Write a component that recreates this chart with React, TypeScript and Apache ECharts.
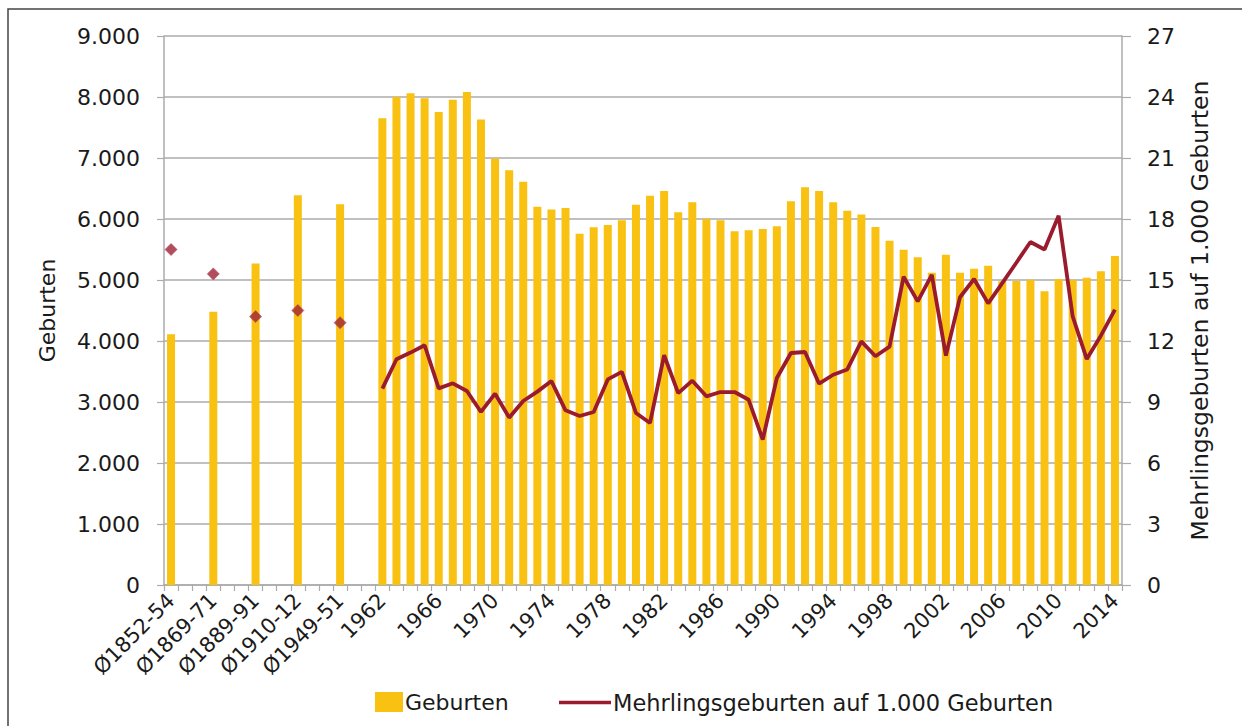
import React, { useEffect, useRef } from "react";
import * as echarts from "echarts";

const histLabels = ["Ø1852-54", "Ø1869-71", "Ø1889-91", "Ø1910-12", "Ø1949-51"];
const histBirths = [4110, 4480, 5270, 6390, 6240];
const histMultiple = [16.5, 15.3, 13.2, 13.5, 12.9];

const years = [
  "1962", "1963", "1964", "1965", "1966", "1967", "1968", "1969",
  "1970", "1971", "1972", "1973", "1974", "1975", "1976", "1977", "1978", "1979",
  "1980", "1981", "1982", "1983", "1984", "1985", "1986", "1987", "1988", "1989",
  "1990", "1991", "1992", "1993", "1994", "1995", "1996", "1997", "1998", "1999",
  "2000", "2001", "2002", "2003", "2004", "2005", "2006", "2007", "2008", "2009",
  "2010", "2011", "2012", "2013", "2014",
];
const births = [
  7650, 8000, 8060, 7980, 7755, 7955, 8080, 7630,
  6990, 6800, 6610, 6200, 6155, 6180, 5760, 5865, 5900, 5980,
  6235, 6383, 6460, 6110, 6275, 6005, 5980, 5800, 5815, 5838,
  5880, 6290, 6520, 6460, 6275, 6135, 6075, 5870, 5645, 5497,
  5372, 5120, 5415, 5120, 5186, 5235, 4980, 4985, 5005, 4815,
  5015, 5000, 5038, 5142, 5393,
];
const multiple = [
  9.66, 11.1, 11.43, 11.79, 9.67, 9.92, 9.54, 8.51,
  9.41, 8.23, 9.05, 9.51, 10.03, 8.59, 8.31, 8.51, 10.11, 10.48,
  8.46, 7.97, 11.3, 9.44, 10.05, 9.28, 9.49, 9.49, 9.11, 7.15,
  10.18, 11.41, 11.46, 9.9, 10.34, 10.6, 11.98, 11.25, 11.72, 15.16,
  13.95, 15.25, 11.28, 14.15, 15.05, 13.85, 14.85, 15.85, 16.87, 16.5,
  18.16, 13.21, 11.11, 12.26, 13.54,
];
const leftTicks = { min: 0, max: 9000, interval: 1000 };
const rightTicks = { min: 0, max: 27, interval: 3 };

const FONT = "DejaVu Sans";
const FS = 21;

function fmtDE(v: number): string {
  const s = String(Math.round(v));
  return s.replace(/\B(?=(\d{3})+(?!\d))/g, ".");
}

export default function App() {
  const ref = useRef<HTMLDivElement>(null);
  useEffect(() => {
    document.body.style.margin = "0";
    if (!ref.current) return;
    const chart = echarts.init(ref.current, null, { renderer: "svg" });

    const cats: string[] = [];
    const barData: (number | null)[] = [];
    const lineData: (number | null)[] = [];
    const scatterData: (number | null)[] = [];
    let blank = 0;
    histLabels.forEach((lab, i) => {
      cats.push(lab);
      barData.push(histBirths[i]);
      lineData.push(null);
      scatterData.push(histMultiple[i]);
      for (let k = 0; k < 2; k++) {
        blank++;
        cats.push("_" + blank);
        barData.push(null);
        lineData.push(null);
        scatterData.push(null);
      }
    });
    years.forEach((y, i) => {
      cats.push(y);
      barData.push(births[i]);
      lineData.push(multiple[i]);
      scatterData.push(null);
    });

    const showLabel = (idx: number, val: string) => {
      if (val.startsWith("_")) return false;
      if (val.startsWith("Ø")) return true;
      return (parseInt(val, 10) - 1962) % 4 === 0;
    };

    const axisGray = "#ABABAB";
    const textColor = "#1a1a1a";

    chart.setOption({
      animation: false,
      textStyle: { fontFamily: FONT },
      grid: { left: 164, right: 120, top: 36, bottom: 141, containLabel: false },
      graphic: [
        {
          type: "rect",
          shape: { x: 8, y: 9, width: 1300, height: 800 },
          style: { fill: "none", stroke: "#444", lineWidth: 1.5 },
          silent: true,
        },
      ],
      legend: [
        {
          data: ["Geburten"],
          left: 370,
          top: 686,
          icon: "rect",
          itemWidth: 28,
          itemHeight: 20,
          itemGap: 6,
          textStyle: { fontFamily: FONT, fontSize: 22, color: textColor, padding: [0, 0, 0, -3] },
        },
        {
          data: ["Mehrlingsgeburten auf 1.000 Geburten"],
          left: 554,
          top: 686,
          icon: "rect",
          itemWidth: 52,
          itemHeight: 3.5,
          textStyle: { fontFamily: FONT, fontSize: 22.5, color: textColor, padding: [0, 0, 0, -3] },
        },
      ],
      xAxis: {
        type: "category",
        data: cats,
        boundaryGap: true,
        axisLine: { lineStyle: { color: axisGray, width: 1.5 } },
        axisTick: { show: true, interval: 0, length: 6, lineStyle: { color: axisGray, width: 1.2 } },
        axisLabel: {
          interval: showLabel,
          rotate: 45,
          margin: 12,
          fontSize: FS,
          fontFamily: FONT,
          color: textColor,
        },
        splitLine: { show: false },
      },
      yAxis: [
        {
          type: "value",
          min: leftTicks.min,
          max: leftTicks.max,
          interval: leftTicks.interval,
          name: "Geburten",
          nameLocation: "middle",
          nameRotate: 90,
          nameGap: 106,
          nameTextStyle: { fontFamily: FONT, fontSize: 22, color: textColor },
          axisLine: { show: true, lineStyle: { color: axisGray, width: 1.5 } },
          axisTick: { show: true, length: 7, lineStyle: { color: axisGray, width: 1.2 } },
          axisLabel: {
            margin: 24,
            fontSize: 22,
            fontFamily: FONT,
            color: textColor,
            formatter: (v: number) => fmtDE(v),
          },
          splitLine: { show: true, lineStyle: { color: axisGray, width: 1.5 } },
        },
        {
          type: "value",
          min: rightTicks.min,
          max: rightTicks.max,
          interval: rightTicks.interval,
          position: "right",
          name: "Mehrlingsgeburten auf 1.000 Geburten",
          nameLocation: "middle",
          nameRotate: 90,
          nameGap: 66,
          nameTextStyle: { fontFamily: FONT, fontSize: 23.5, color: textColor },
          axisLine: { show: true, lineStyle: { color: axisGray, width: 1.5 } },
          axisTick: { show: true, length: 9, lineStyle: { color: axisGray, width: 1.2 } },
          axisLabel: { margin: 25, fontSize: 22, fontFamily: FONT, color: textColor },
          splitLine: { show: false },
        },
      ],
      series: [
        {
          name: "Geburten",
          type: "bar",
          data: barData,
          barWidth: 8,
          itemStyle: { color: "#F9C213" },
          yAxisIndex: 0,
        },
        {
          name: "Mehrlingsgeburten auf 1.000 Geburten",
          type: "line",
          data: lineData,
          yAxisIndex: 1,
          symbol: "none",
          connectNulls: false,
          lineStyle: { color: "#9B1B2E", width: 3.8 },
          itemStyle: { color: "#9B1B2E" },
        },
        {
          name: "hist",
          type: "scatter",
          data: scatterData,
          yAxisIndex: 1,
          symbol: "diamond",
          symbolSize: 12,
          itemStyle: { color: "#9E2236", borderColor: "#B8485A", borderWidth: 0.8 },
        },
      ],
    });
    return () => chart.dispose();
  }, []);
  return <div ref={ref} style={{ width: 1242, height: 726 }} />;
}
